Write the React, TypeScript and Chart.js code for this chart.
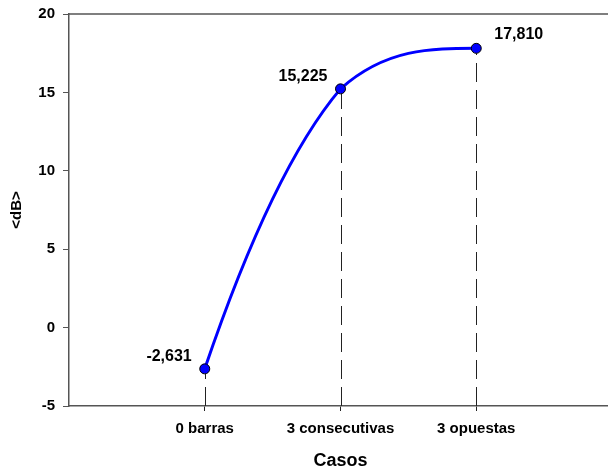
import { useEffect, useRef } from 'react';
import { Chart, registerables } from 'chart.js';

Chart.register(...registerables);

// ---- data ----
const categories = ['0 barras', '3 consecutivas', '3 opuestas'];
const values = [-2.631, 15.225, 17.81];
const yTicks = [-5, 0, 5, 10, 15, 20];
const xTitle = 'Casos';
const yTitle = '<dB>';

// ---- styles ----
const FONT = "'Liberation Sans', Arial, Helvetica, sans-serif";
const AXIS = '#555555';
const labelSide = ['left', 'left', 'right'];

const fmt = (v: number) => v.toFixed(3).replace('.', ',');

// Cubic Hermite spline through the scale-mapped points: centred tangents inside,
// shape-preserving three-point tangents at the ends, per-segment overshoot limit
const smoothSpline = {
  id: 'smoothSpline',
  beforeDatasetDraw(chart: any, args: any) {
    const meta = args.meta;
    const line = meta.dataset;
    if (!line) return;
    line.updateControlPoints(chart.chartArea, 'x');
    const pts = meta.data;
    const n = pts.length;
    if (n < 3) return;
    const xs = pts.map((p: any) => p.x);
    const ys = pts.map((p: any) => p.y);
    const h: number[] = [];
    const dl: number[] = [];
    for (let i = 0; i < n - 1; i++) {
      h.push(xs[i + 1] - xs[i]);
      dl.push((ys[i + 1] - ys[i]) / h[i]);
    }
    const m = new Array(n).fill(0);
    for (let i = 1; i < n - 1; i++) m[i] = (ys[i + 1] - ys[i - 1]) / (xs[i + 1] - xs[i - 1]);
    const end = (h0: number, h1: number, d0: number, d1: number) => {
      let t = ((2 * h0 + h1) * d0 - h0 * d1) / (h0 + h1);
      if (Math.sign(t) !== Math.sign(d0)) t = 0;
      return t;
    };
    m[0] = end(h[0], h[1], dl[0], dl[1]);
    m[n - 1] = end(h[n - 2], h[n - 3], dl[n - 2], dl[n - 3]);
    const lim = (t: number, d: number) => (Math.abs(t) > 3 * Math.abs(d) ? 3 * d : t);
    for (let i = 0; i < n - 1; i++) {
      const a = lim(m[i], dl[i]);
      const b = lim(m[i + 1], dl[i]);
      pts[i].cp2x = xs[i] + h[i] / 3;
      pts[i].cp2y = ys[i] + (a * h[i]) / 3;
      pts[i + 1].cp1x = xs[i + 1] - h[i] / 3;
      pts[i + 1].cp1y = ys[i + 1] - (b * h[i]) / 3;
    }
    line._path = undefined;
  },
};

const decorations = {
  id: 'decorations',
  beforeDatasetsDraw(chart: any) {
    const { ctx, chartArea } = chart;
    const meta = chart.getDatasetMeta(0);
    ctx.save();
    // top frame line
    ctx.strokeStyle = AXIS;
    ctx.lineWidth = 1.5;
    ctx.beginPath();
    ctx.moveTo(chartArea.left, chartArea.top);
    ctx.lineTo(chartArea.right, chartArea.top);
    ctx.stroke();
    // dashed drop lines
    ctx.strokeStyle = '#222222';
    ctx.lineWidth = 1;
    ctx.setLineDash([19, 8]);
    meta.data.forEach((p: any) => {
      const x = Math.round(p.x) + 0.5;
      ctx.beginPath();
      ctx.moveTo(x, chartArea.bottom);
      ctx.lineTo(x, p.y + 5);
      ctx.stroke();
    });
    ctx.restore();
  },
  afterDatasetsDraw(chart: any) {
    const { ctx } = chart;
    const meta = chart.getDatasetMeta(0);
    ctx.save();
    ctx.fillStyle = '#000000';
    ctx.font = `bold 16px ${FONT}`;
    ctx.textBaseline = 'middle';
    meta.data.forEach((p: any, i: number) => {
      const txt = fmt(values[i]);
      if (labelSide[i] === 'left') {
        ctx.textAlign = 'right';
        ctx.fillText(txt, p.x - 13, p.y - 12);
      } else {
        ctx.textAlign = 'left';
        ctx.fillText(txt, p.x + 18, p.y - 14);
      }
    });
    ctx.restore();
  },
};

export default function App() {
  const ref = useRef<HTMLCanvasElement | null>(null);

  useEffect(() => {
    if (!ref.current) return;
    const chart = new Chart(ref.current, {
      type: 'line',
      data: {
        datasets: [
          {
            data: values.map((y, i) => ({ x: i + 1, y })),
            borderColor: '#0000ff',
            borderWidth: 3,
            tension: 0.4,
            pointRadius: 5,
            pointHoverRadius: 5,
            pointBackgroundColor: '#0000ff',
            pointBorderColor: '#000000',
            pointBorderWidth: 1,
            fill: false,
          },
        ],
      },
      options: {
        animation: false,
        responsive: true,
        maintainAspectRatio: false,
        layout: { padding: { top: 14, right: 0, bottom: 0, left: 0 } },
        plugins: {
          legend: { display: false },
          tooltip: { enabled: false },
        },
        scales: {
          x: {
            type: 'linear',
            min: 0,
            max: categories.length + 1,
            afterBuildTicks: (s: any) => {
              s.ticks = categories.map((_, i) => ({ value: i + 1 }));
            },
            afterFit: (s: any) => {
              s.height = 68;
              s.paddingLeft = 0;
              s.paddingRight = 0;
            },
            ticks: {
              callback: (v: any) => categories[Number(v) - 1] ?? '',
              color: '#000000',
              font: { family: FONT, size: 15, weight: 'bold' },
              padding: 9,
              maxRotation: 0,
              autoSkip: false,
            },
            grid: {
              display: true,
              drawOnChartArea: false,
              drawTicks: true,
              tickLength: 5,
              color: '#222222',
            },
            border: { display: true, color: AXIS, width: 1.5 },
            title: {
              display: true,
              text: xTitle,
              color: '#000000',
              font: { family: FONT, size: 18, weight: 'bold' },
              padding: { top: 0, bottom: 2 },
            },
          },
          y: {
            type: 'linear',
            min: yTicks[0],
            max: yTicks[yTicks.length - 1],
            afterBuildTicks: (s: any) => {
              s.ticks = yTicks.map((v) => ({ value: v }));
            },
            afterFit: (s: any) => {
              s.width = 69;
              s.paddingTop = 0;
              s.paddingBottom = 0;
            },
            ticks: {
              color: '#000000',
              font: { family: FONT, size: 15, weight: 'bold' },
              padding: 8,
            },
            grid: {
              display: true,
              drawOnChartArea: false,
              drawTicks: true,
              tickLength: 6,
              color: AXIS,
            },
            border: { display: true, color: AXIS, width: 1.5 },
            title: {
              display: true,
              text: yTitle,
              color: '#000000',
              font: { family: FONT, size: 15, weight: 'bold' },
              padding: { top: 8, bottom: 0 },
            },
          },
        },
      } as any,
      plugins: [smoothSpline, decorations],
    });
    return () => chart.destroy();
  }, []);

  return (
    <div style={{ position: 'fixed', left: 0, top: 0, width: 618, height: 474 }}>
      <canvas ref={ref} />
    </div>
  );
}
